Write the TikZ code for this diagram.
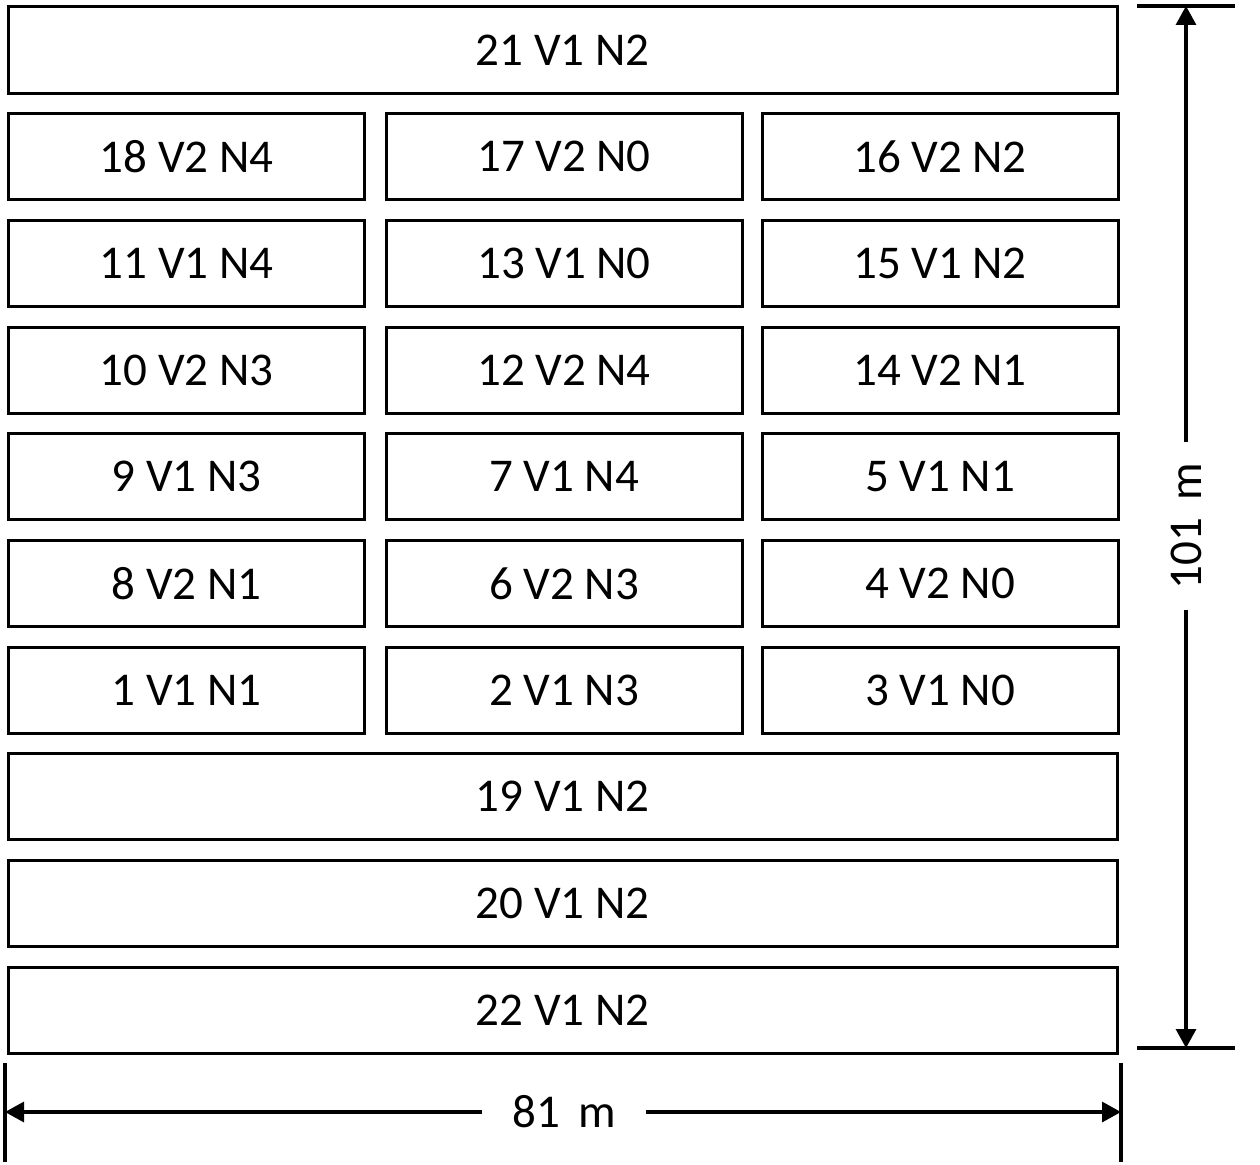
\documentclass[tikz,border=0pt]{standalone}
\usepackage{fontspec}
\setmainfont{Carlito}
\usetikzlibrary{arrows.meta}
\tikzset{
  plot/.style={draw, line width=3pt, rectangle, inner sep=0pt, minimum height=86pt,
    font=\fontsize{47}{50}\selectfont},
  half/.style={plot, minimum width=356pt},
  full/.style={plot, minimum width=1109pt},
  dimline/.style={line width=3.2pt, -{Triangle[length=19pt,width=20pt]}},
  tickline/.style={line width=3.2pt},
  dimlab/.style={font=\fontsize{47}{50}\selectfont, inner ysep=0pt}
}
\begin{document}
\begin{tikzpicture}[x=1pt,y=-1pt]
\useasboundingbox (0,0) rectangle (1260,1164);
% rows
\node[full] (p21) at (562.5,50) {21 V1 N2};
\node[half] (p18) at (186.5,156.7) {18 V2 N4};
\node[half] (p17) at (564,156.7) {17 V2 N0};
\node[half] (p16) at (940,156.7) {16 V2 N2};
\node[half] (p11) at (186.5,263.3) {11 V1 N4};
\node[half] (p13) at (564,263.3) {13 V1 N0};
\node[half] (p15) at (940,263.3) {15 V1 N2};
\node[half] (p10) at (186.5,370) {10 V2 N3};
\node[half] (p12) at (564,370) {12 V2 N4};
\node[half] (p14) at (940,370) {14 V2 N1};
\node[half] (p9) at (186.5,476.7) {9 V1 N3};
\node[half] (p7) at (564,476.7) {7 V1 N4};
\node[half] (p5) at (940,476.7) {5 V1 N1};
\node[half] (p8) at (186.5,583.3) {8 V2 N1};
\node[half] (p6) at (564,583.3) {6 V2 N3};
\node[half] (p4) at (940,583.3) {4 V2 N0};
\node[half] (p1) at (186.5,690) {1 V1 N1};
\node[half] (p2) at (564,690) {2 V1 N3};
\node[half] (p3) at (940,690) {3 V1 N0};
\node[full] (p19) at (562.5,796.7) {19 V1 N2};
\node[full] (p20) at (562.5,903.3) {20 V1 N2};
\node[full] (p22) at (562.5,1010) {22 V1 N2};
% vertical dimension
\coordinate (vt) at (1186,6);
\coordinate (vb) at (1186,1048);
\draw[tickline] (1137,6) -- (1235,6);
\draw[tickline] (1137,1048) -- (1235,1048);
\node[dimlab, rotate=90, inner xsep=20pt] (vlab) at (1186,526) {101\hspace{18pt}m};
\draw[dimline] (vlab) -- (vt);
\draw[dimline] (vlab) -- (vb);
% horizontal dimension
\coordinate (hl) at (5,1112);
\coordinate (hr) at (1121,1112);
\draw[tickline] (5,1063) -- (5,1162);
\draw[tickline] (1121,1063) -- (1121,1162);
\node[dimlab, inner xsep=30pt] (hlab) at (564,1112) {81\hspace{18pt}m};
\draw[dimline] (hlab) -- (hl);
\draw[dimline] (hlab) -- (hr);
\end{tikzpicture}
\end{document}
